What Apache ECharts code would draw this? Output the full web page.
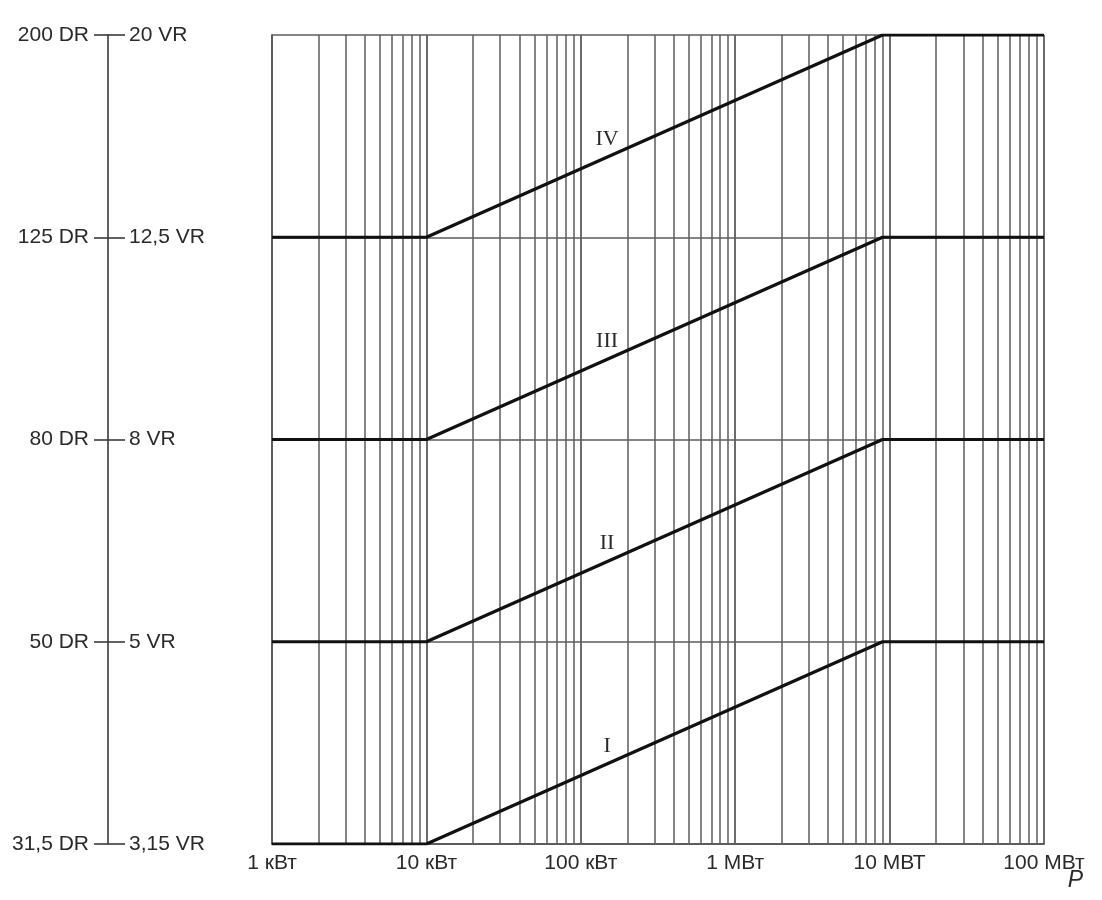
<!DOCTYPE html>
<html>
<head>
<meta charset="utf-8">
<script src="https://cdn.jsdelivr.net/npm/echarts@6/dist/echarts.min.js"></script>
<style>
html,body{margin:0;padding:0;background:#fff;}
#chart{width:1102px;height:900px;}
</style>
</head>
<body>
<div id="chart"></div>
<script>
// ---- data ----
const DR_LEVELS = [31.5, 50, 80, 125, 200];
const DR_LABELS = ['31,5 DR', '50 DR', '80 DR', '125 DR', '200 DR'];
const VR_LABELS = ['3,15 VR', '5 VR', '8 VR', '12,5 VR', '20 VR'];
const X_TICK_VALUES = [1, 10, 100, 1000, 10000, 100000];
const X_TICK_LABELS = ['1 кВт', '10 кВт', '100 кВт', '1 МВт', '10 МВТ', '100 МВт'];
const MINOR_MULTIPLIERS = [2, 3, 4, 5, 6, 7, 8, 9];
const DECADES = [1, 10, 100, 1000, 10000];
const POWER_KW = [1, 10, 9000, 100000];
const CURVE_I   = [31.5, 31.5, 50, 50];
const CURVE_II  = [50, 50, 80, 80];
const CURVE_III = [80, 80, 125, 125];
const CURVE_IV  = [125, 125, 200, 200];
const CURVE_NAMES = ['I', 'II', 'III', 'IV'];
const CURVES = [CURVE_I, CURVE_II, CURVE_III, CURVE_IV];
const LABEL_POWER_KW = 148;

// ---- build ----
const lvl = v => DR_LEVELS.indexOf(v);
const minorLines = [];
DECADES.forEach(d => MINOR_MULTIPLIERS.forEach(m => minorLines.push({ xAxis: d * m })));

const GRID_COLOR = '#5c5c5c';
const TEXT_COLOR = '#2a2a2a';
const FONT = 'Liberation Sans, Arial, sans-serif';

const series = CURVES.map((c, i) => ({
  type: 'line',
  xAxisIndex: 0, yAxisIndex: 0,
  data: POWER_KW.map((p, j) => [p, lvl(c[j])]),
  symbol: 'none',
  lineStyle: { color: '#111', width: 3.2 },
  z: 5,
  silent: true,
  markPoint: {
    symbol: 'circle', symbolSize: 1,
    itemStyle: { color: 'rgba(0,0,0,0)' },
    label: {
      show: true, position: 'inside',
      formatter: CURVE_NAMES[i],
      fontFamily: 'Liberation Serif, Times New Roman, serif',
      fontSize: 22, color: TEXT_COLOR
    },
    data: [{ coord: [LABEL_POWER_KW, lvl(c[0]) + 0.485] }]
  }
}));

series.push({
  type: 'line', xAxisIndex: 0, yAxisIndex: 0, data: [], silent: true,
  markLine: {
    silent: true, symbol: ['none', 'none'],
    label: { show: false },
    lineStyle: { color: GRID_COLOR, width: 1.5, type: 'solid' },
    data: minorLines,
    animation: false
  }
});

const option = {
  animation: false,
  backgroundColor: '#fff',
  grid: [
    { left: 272, right: 58, top: 35, bottom: 56 },
    { left: 108, width: 1, top: 35, bottom: 56 }
  ],
  xAxis: [
    {
      type: 'log', gridIndex: 0, min: 1, max: 100000, logBase: 10,
      axisLine: { show: true, lineStyle: { color: GRID_COLOR, width: 1.8 } },
      axisTick: { show: false },
      splitLine: { show: true, lineStyle: { color: GRID_COLOR, width: 1.8 } },
      axisLabel: {
        margin: 9, fontSize: 21, fontFamily: FONT, color: TEXT_COLOR,
        formatter: v => {
          const k = X_TICK_VALUES.findIndex(t => Math.abs(t - v) / t < 1e-6);
          return k >= 0 ? X_TICK_LABELS[k] : '';
        },
        showMinLabel: true, showMaxLabel: true
      }
    },
    {
      type: 'value', gridIndex: 1, min: 0, max: 1, show: false
    }
  ],
  yAxis: [
    {
      type: 'value', gridIndex: 0, min: 0, max: 4, interval: 1,
      axisLine: { show: true, lineStyle: { color: GRID_COLOR, width: 1.8 } },
      axisTick: { show: false },
      axisLabel: { show: false },
      splitLine: { show: true, lineStyle: { color: GRID_COLOR, width: 1.5 } }
    },
    {
      type: 'value', gridIndex: 1, position: 'left', min: 0, max: 4, interval: 1,
      axisLine: { show: true, lineStyle: { color: '#3a3a3a', width: 1.6 } },
      axisTick: { show: true, length: 14, lineStyle: { color: '#3a3a3a', width: 1.6 } },
      splitLine: { show: false },
      axisLabel: {
        margin: 19, fontSize: 21, fontFamily: FONT, color: TEXT_COLOR,
        formatter: v => DR_LABELS[Math.round(v)]
      }
    },
    {
      type: 'value', gridIndex: 1, position: 'right', offset: -1, min: 0, max: 4, interval: 1,
      axisLine: { show: false },
      axisTick: { show: true, length: 17, lineStyle: { color: '#3a3a3a', width: 1.6 } },
      splitLine: { show: false },
      axisLabel: {
        margin: 21, fontSize: 21, fontFamily: FONT, color: TEXT_COLOR,
        formatter: v => VR_LABELS[Math.round(v)]
      }
    }
  ],
  graphic: [
    {
      type: 'text', right: 1102 - 1083, top: 869,
      style: {
        text: 'P', font: 'italic 23px Liberation Sans, Arial, sans-serif',
        fill: TEXT_COLOR
      }
    }
  ],
  series: series
};

const chart = echarts.init(document.getElementById('chart'), null, { renderer: 'canvas' });
chart.setOption(option);
</script>
</body>
</html>
